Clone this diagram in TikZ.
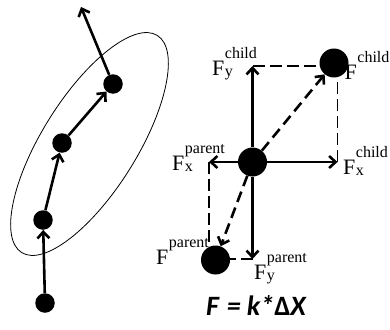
\documentclass[tikz,border=0pt]{standalone}
\usepackage{fontspec}
\setmainfont{Liberation Serif}
\newfontfamily\formfont{Carlito}
\usetikzlibrary{arrows.meta}
\tikzset{
  dot/.style={circle,fill=black,inner sep=0pt,minimum size=19.5pt},
  bigdot/.style={circle,fill=black,inner sep=0pt,minimum size=29pt},
  force/.style={line width=2.6pt,-{Straight Barb[length=6.5pt,width=12pt]}},
  dforce/.style={force,dash pattern=on 11pt off 6pt},
  guide/.style={line width=1.1pt,dash pattern=on 12pt off 5pt},
  lab/.style={inner sep=0pt,anchor=base west,font=\fontsize{22}{23}\selectfont},
  hull/.style={line width=0.8pt},
}
\newcommand{\Fl}[2]{F\kern0.5pt\makebox[0pt][l]{\raisebox{17pt}{\fontsize{16}{16}\selectfont #1}}\raisebox{-1pt}{\fontsize{16}{16}\selectfont #2}}
\begin{document}
\begin{tikzpicture}[x=1pt,y=-1pt]
\useasboundingbox (0,0) rectangle (390,329);
% left chain
\draw[hull,rotate around={58:(89.5,144)}] (89.5,144) ellipse [x radius=128,y radius=47.4];
\node[dot] (a) at (45,303) {};
\node[dot] (b) at (43,220) {};
\node[dot] (c) at (62,143) {};
\node[dot] (d) at (113,84) {};
\coordinate (e) at (81,7);
\draw[force] (a) -- (b);
\draw[force] (b) -- (c);
\draw[force] (c) -- (d);
\draw[force] (d) -- (e);
% right diagram
\node[bigdot] (C) at (252.5,162) {};
\node[bigdot] (K) at (334,63) {};
\node[bigdot] (P) at (215.5,260) {};
\coordinate (up) at (252.5,66);
\coordinate (rt) at (337.5,162);
\coordinate (lf) at (209,162);
\coordinate (dn) at (252.5,259);
\draw[guide] (up) -- (K.west |- up);
\draw[guide] (rt) -- (rt |- K.south);
\draw[guide] (lf) -- (lf |- P.north);
\draw[guide] (dn) -- (P.east |- dn);
\draw[force] (C) -- (up);
\draw[force] (C) -- (rt);
\draw[force] (C) -- (lf);
\draw[force] (C) -- (dn);
\draw[dforce] (C) -- (K);
\draw[dforce] (C) -- (P);
% labels
\node[lab] (lyc) at (212,75) {\Fl{child}{y}};
\node[lab] (lc) at (344.5,79) {\Fl{child}{}};
\node[lab] (lxp) at (172,170) {\Fl{parent}{x}};
\node[lab] (lxc) at (343,174) {\Fl{child}{x}};
\node[lab] (lp) at (156,264) {\Fl{parent}{}};
\node[lab] (lyp) at (254,279) {\Fl{parent}{y}};
\node[inner sep=0pt,anchor=base] (eq) at (256,315) {\fontsize{28}{29}\formfont\bfseries\itshape F\hspace{8pt}=\hspace{6pt}k*{\upshape Δ}X};
\end{tikzpicture}
\end{document}
